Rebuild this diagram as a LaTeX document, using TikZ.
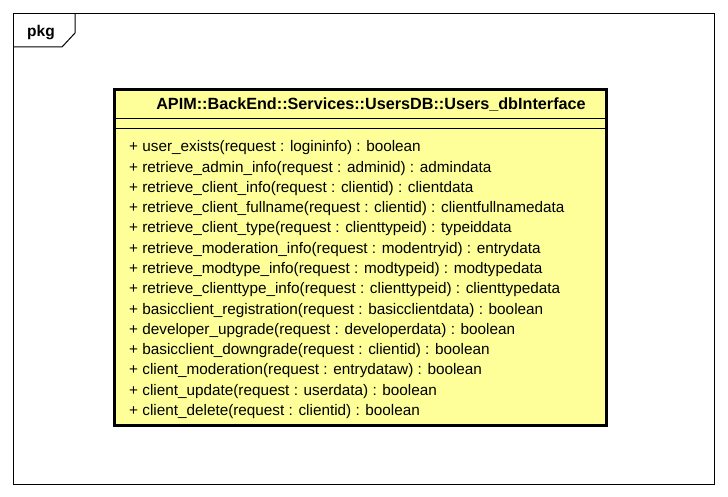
\documentclass[tikz,border=0pt]{standalone}
\usepackage{fontspec}
\setmainfont{Liberation Sans}
\definecolor{classfill}{RGB}{255,255,153}
\begin{document}
\begin{tikzpicture}[x=1pt,y=-1pt,
  optext/.style={anchor=base west,inner sep=0pt,font=\fontsize{15.3}{20}\selectfont},
  headtext/.style={anchor=base,inner sep=0pt,font=\fontsize{16.2}{20}\selectfont\bfseries},
  pkgtext/.style={anchor=base,inner sep=0pt,font=\fontsize{15.5}{20}\selectfont\bfseries},
  frameline/.style={draw=black,line width=1pt},
  classbox/.style={draw=black,line width=3pt,fill=classfill}]
\useasboundingbox (0,0) rectangle (728,497);
% package frame
\draw[frameline] (13.5,13.5) rectangle (714.5,484.5);
\draw[frameline] (13.5,47) -- (62,47) -- (75,33) -- (75,13.5);
\node[pkgtext] (pkg) at (41,37) {pkg};
% class box
\draw[classbox] (114.5,89.5) rectangle (606.5,425.8);
\coordinate (sepAL) at (116,118.5);
\coordinate (sepAR) at (605,118.5);
\coordinate (sepBL) at (116,129);
\coordinate (sepBR) at (605,129);
\draw[line width=1pt] (sepAL) -- (sepAR);
\draw[line width=1pt] (sepBL) -- (sepBR);
\node[headtext] (title) at (371,110) {APIM::BackEnd::Services::UsersDB::Users\_dbInterface};
\foreach \t [count=\i from 0] in {
 {+ user\_exists(request : logininfo) : boolean},
 {+ retrieve\_admin\_info(request : adminid) : admindata},
 {+ retrieve\_client\_info(request : clientid) : clientdata},
 {+ retrieve\_client\_fullname(request : clientid) : clientfullnamedata},
 {+ retrieve\_client\_type(request : clienttypeid) : typeiddata},
 {+ retrieve\_moderation\_info(request : modentryid) : entrydata},
 {+ retrieve\_modtype\_info(request : modtypeid) : modtypedata},
 {+ retrieve\_clienttype\_info(request : clienttypeid) : clienttypedata},
 {+ basicclient\_registration(request : basicclientdata) : boolean},
 {+ developer\_upgrade(request : developerdata) : boolean},
 {+ basicclient\_downgrade(request : clientid) : boolean},
 {+ client\_moderation(request : entrydataw) : boolean},
 {+ client\_update(request : userdata) : boolean},
 {+ client\_delete(request : clientid) : boolean}} {
  \node[optext] (op\i) at (129,152+20.25*\i) {\t};
}
\end{tikzpicture}
\end{document}
